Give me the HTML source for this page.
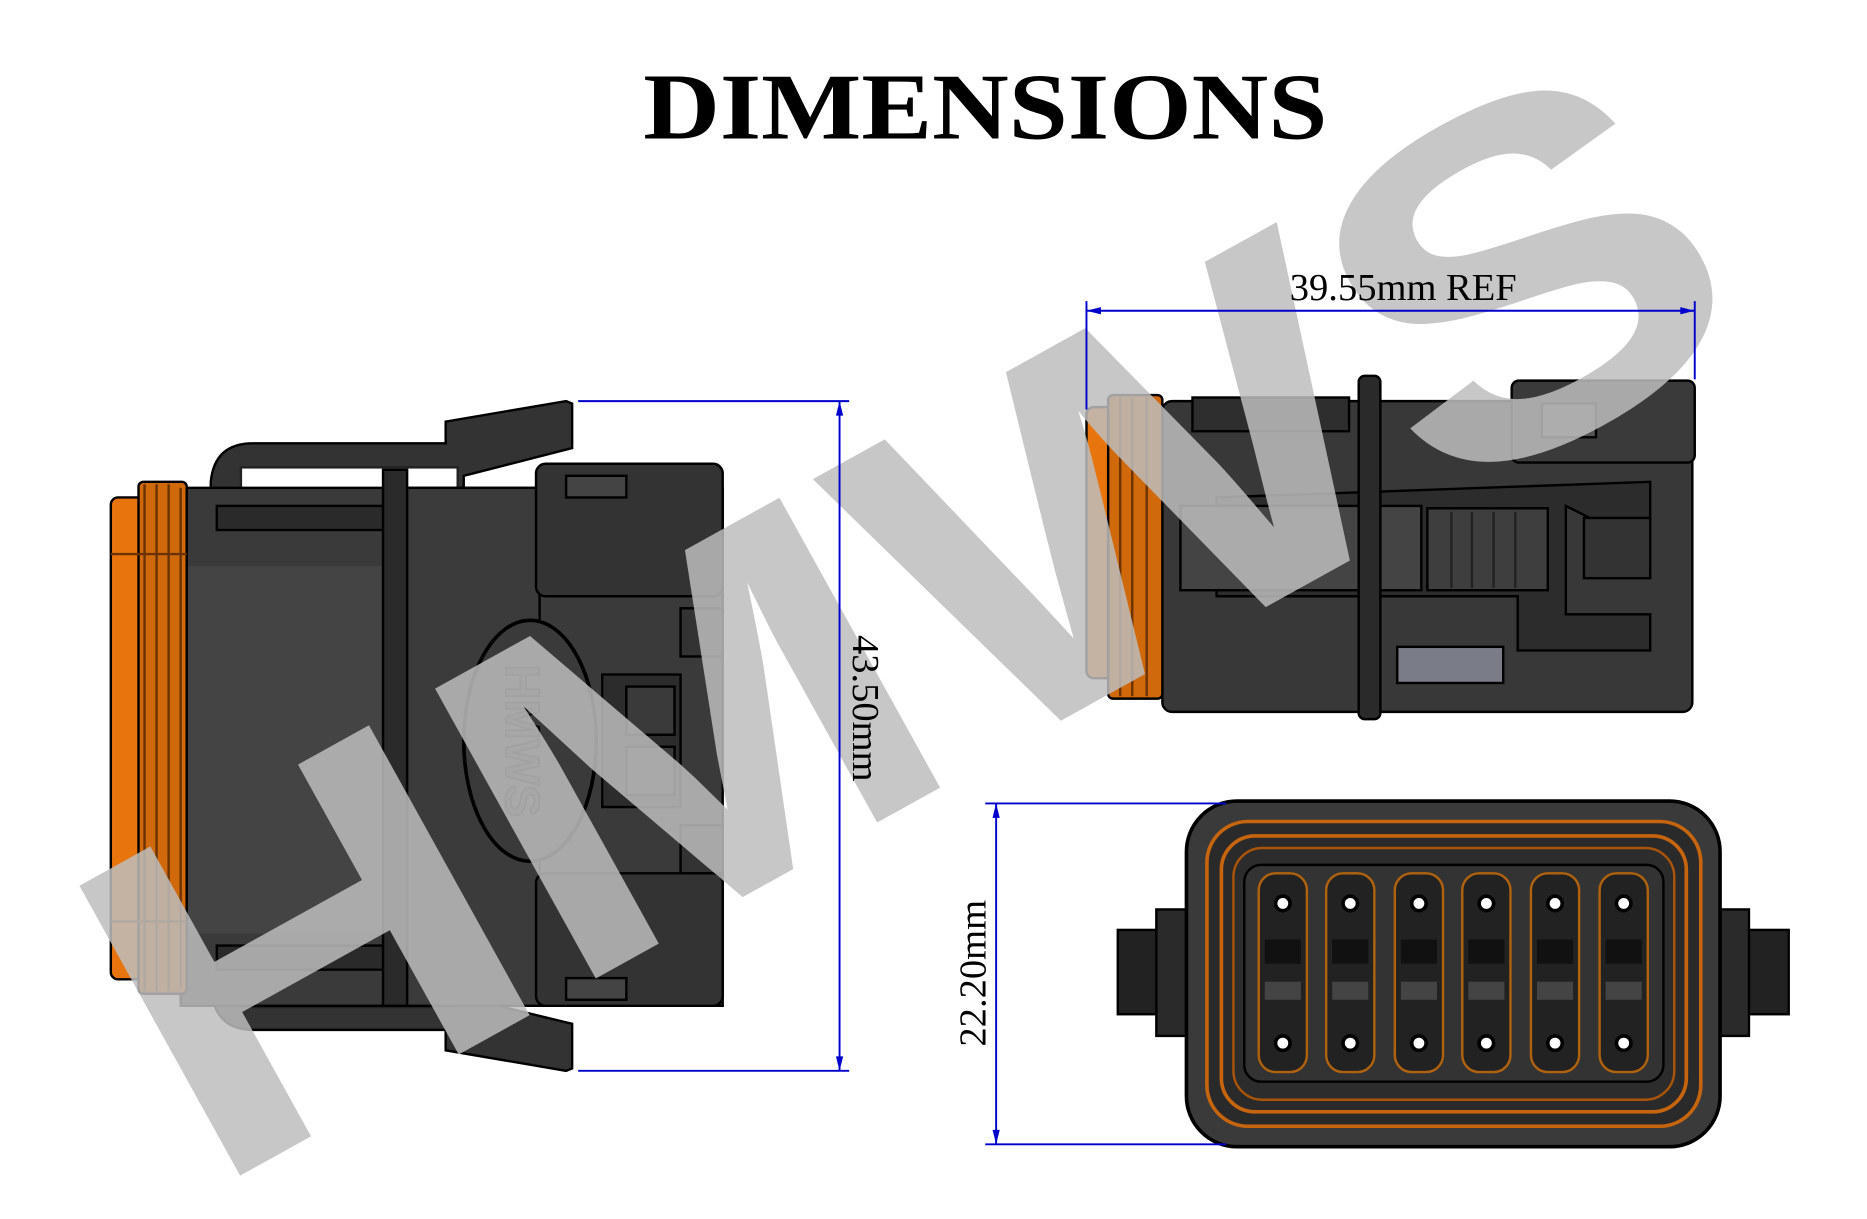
<!DOCTYPE html>
<html><head><meta charset="utf-8"><style>
html,body{margin:0;padding:0;background:#fff;width:1867px;height:1219px;overflow:hidden}
svg{display:block}
</style></head><body>
<svg width="1867" height="1219" viewBox="0 0 1550 1012" preserveAspectRatio="none" xmlns="http://www.w3.org/2000/svg" style="overflow:hidden">
<rect width="1550" height="1012" fill="#fff"/>

<!-- LEFT CONNECTOR -->
<g stroke="#000" stroke-width="2">
  <path d="M175,400 Q178,368 210,368 L370,368 L370,350 L470,333 L475,335 L475,372 L385,395 L385,408 L175,408Z" fill="#333"/>
  <path d="M175,820 Q178,855 210,855 L370,855 L370,872 L470,889 L475,887 L475,850 L385,828 L385,815 L175,815Z" fill="#333"/>
  <rect x="200" y="388" width="180" height="18" fill="#fff" stroke="#222"/>
  <rect x="200" y="818" width="180" height="18" fill="#fff" stroke="#222"/>
  <rect x="150" y="405" width="450" height="430" fill="#3a3a3a"/>
  <rect x="155" y="470" width="165" height="305" fill="#444" stroke="none"/>
  <rect x="180" y="420" width="140" height="20" fill="#2a2a2a"/>
  <rect x="180" y="785" width="140" height="20" fill="#2a2a2a"/>
  <rect x="318" y="390" width="20" height="445" fill="#2a2a2a"/>
  <rect x="338" y="405" width="110" height="430" fill="#3b3b3b"/>
  <rect x="445" y="385" width="155" height="110" rx="8" fill="#333"/>
  <rect x="445" y="725" width="155" height="110" rx="8" fill="#333"/>
  <rect x="470" y="395" width="50" height="18" fill="#444"/>
  <rect x="470" y="812" width="50" height="18" fill="#444"/>
  <rect x="565" y="505" width="35" height="40" fill="#333"/>
  <rect x="565" y="685" width="35" height="40" fill="#333"/>
  <rect x="500" y="560" width="65" height="110" fill="#2c2c2c"/>
  <rect x="520" y="570" width="40" height="40" fill="#3a3a3a"/>
  <rect x="520" y="620" width="40" height="40" fill="#3a3a3a"/>
  <ellipse cx="440" cy="615" rx="55" ry="100" fill="#3a3a3a" stroke-width="3"/>
  <rect x="92" y="413" width="60" height="400" rx="6" fill="#e8740e"/>
  <rect x="115" y="400" width="40" height="425" rx="4" fill="#d0690c"/>
</g>
<g stroke="#6a3300" stroke-width="2">
  <line x1="120" y1="402" x2="120" y2="823"/><line x1="130" y1="402" x2="130" y2="823"/>
  <line x1="140" y1="402" x2="140" y2="823"/><line x1="150" y1="405" x2="150" y2="820"/>
  <line x1="92" y1="460" x2="155" y2="460"/><line x1="92" y1="765" x2="155" y2="765"/>
</g>
<text transform="translate(420,615) rotate(90)" text-anchor="middle" font-family="Liberation Sans,sans-serif" font-weight="bold" font-size="40" fill="#2a2a2a" stroke="#000" stroke-width="1.5">HMWS</text>

<!-- TOP RIGHT CONNECTOR -->
<g stroke="#000" stroke-width="2">
  <rect x="965" y="333" width="440" height="258" rx="8" fill="#383838"/>
  <rect x="990" y="330" width="130" height="28" fill="#2e2e2e"/>
  <rect x="1255" y="316" width="152" height="68" rx="6" fill="#3a3a3a"/>
  <rect x="1280" y="335" width="45" height="28" fill="#555"/>
  <path d="M1010,413 L1370,400 L1370,470 L1320,470 L1320,430 L1300,420 L1300,510 L1370,510 L1370,540 L1260,540 L1260,495 L1010,495Z" fill="#2c2c2c"/>
  <rect x="980" y="420" width="200" height="70" fill="#444"/>
  <rect x="1185" y="422" width="100" height="68" fill="#3e3e3e"/>
  <rect x="1128" y="312" width="18" height="285" rx="5" fill="#2a2a2a"/>
  <rect x="1160" y="537" width="88" height="30" fill="#7a7c88"/>
  <rect x="1315" y="430" width="55" height="50" fill="#333"/>
  <rect x="902" y="338" width="45" height="225" rx="6" fill="#e8740e"/>
  <rect x="920" y="328" width="45" height="252" rx="4" fill="#d0690c"/>
</g>
<g stroke="#6a3300" stroke-width="2">
  <line x1="930" y1="330" x2="930" y2="578"/><line x1="940" y1="330" x2="940" y2="578"/><line x1="952" y1="330" x2="952" y2="578"/>
</g>
<g stroke="#222" stroke-width="2">
  <line x1="1205" y1="425" x2="1205" y2="488"/><line x1="1222" y1="425" x2="1222" y2="488"/>
  <line x1="1240" y1="425" x2="1240" y2="488"/><line x1="1258" y1="425" x2="1258" y2="488"/>
</g>

<!-- BOTTOM RIGHT CONNECTOR -->
<g stroke="#000" stroke-width="2">
  <rect x="928" y="772" width="60" height="70" fill="#222"/>
  <rect x="1425" y="772" width="60" height="70" fill="#222"/>
  <rect x="960" y="755" width="30" height="105" fill="#2a2a2a"/>
  <rect x="1422" y="755" width="30" height="105" fill="#2a2a2a"/>
  <rect x="985" y="665" width="443" height="287" rx="42" fill="#3a3a3a" stroke-width="3"/>
  <rect x="1002" y="682" width="410" height="253" rx="34" fill="#2a2a2a" stroke="#c7650e" stroke-width="3"/>
  <rect x="1014" y="694" width="386" height="229" rx="28" fill="none" stroke="#c7650e" stroke-width="3"/>
  <rect x="1024" y="704" width="366" height="209" rx="24" fill="#2c2c2c" stroke="#a9540a" stroke-width="2"/>
  <rect x="1033" y="718" width="348" height="180" rx="14" fill="#333"/>
</g>
<g>
  <g fill="#222" stroke="#b0620e" stroke-width="2">
    <rect x="1045" y="725" width="40" height="165" rx="14"/>
    <rect x="1101" y="725" width="40" height="165" rx="14"/>
    <rect x="1158" y="725" width="40" height="165" rx="14"/>
    <rect x="1214" y="725" width="40" height="165" rx="14"/>
    <rect x="1271" y="725" width="40" height="165" rx="14"/>
    <rect x="1328" y="725" width="40" height="165" rx="14"/>
  </g>
  <g fill="#111">
    <rect x="1050" y="780" width="30" height="20"/><rect x="1106" y="780" width="30" height="20"/>
    <rect x="1163" y="780" width="30" height="20"/><rect x="1219" y="780" width="30" height="20"/>
    <rect x="1276" y="780" width="30" height="20"/><rect x="1333" y="780" width="30" height="20"/>
    <rect x="1050" y="815" width="30" height="15" fill="#444"/><rect x="1106" y="815" width="30" height="15" fill="#444"/>
    <rect x="1163" y="815" width="30" height="15" fill="#444"/><rect x="1219" y="815" width="30" height="15" fill="#444"/>
    <rect x="1276" y="815" width="30" height="15" fill="#444"/><rect x="1333" y="815" width="30" height="15" fill="#444"/>
  </g>
  <g fill="#fff" stroke="#000" stroke-width="3">
    <circle cx="1065" cy="750" r="6"/><circle cx="1121" cy="750" r="6"/><circle cx="1178" cy="750" r="6"/>
    <circle cx="1234" cy="750" r="6"/><circle cx="1291" cy="750" r="6"/><circle cx="1348" cy="750" r="6"/>
    <circle cx="1065" cy="866" r="6"/><circle cx="1121" cy="866" r="6"/><circle cx="1178" cy="866" r="6"/>
    <circle cx="1234" cy="866" r="6"/><circle cx="1291" cy="866" r="6"/><circle cx="1348" cy="866" r="6"/>
  </g>
</g>

<!-- WATERMARK -->
<text transform="translate(768,540) rotate(-29)" text-anchor="middle" font-family="Liberation Sans,sans-serif" font-weight="bold" font-size="400" fill="#bdbdbd" fill-opacity="0.85" textLength="1480" lengthAdjust="spacingAndGlyphs" dominant-baseline="middle">HMWS</text>

<!-- TITLE -->
<text x="818" y="115" text-anchor="middle" font-family="Liberation Serif,serif" font-weight="bold" font-size="78" fill="#000" textLength="568" lengthAdjust="spacingAndGlyphs">DIMENSIONS</text>

<!-- DIMENSIONS -->
<g stroke="#0000cc" stroke-width="1.6" fill="#0000cc">
  <line x1="480" y1="333" x2="705" y2="333"/>
  <line x1="480" y1="889" x2="705" y2="889"/>
  <line x1="697" y1="333" x2="697" y2="889"/>
  <path d="M697,333 l-3,12 l6,0Z" stroke="none"/><path d="M697,889 l-3,-12 l6,0Z" stroke="none"/>
  <line x1="902" y1="250" x2="902" y2="340"/>
  <line x1="1407" y1="250" x2="1407" y2="315"/>
  <line x1="902" y1="258" x2="1407" y2="258"/>
  <path d="M902,258 l12,-3 l0,6Z" stroke="none"/><path d="M1407,258 l-12,-3 l0,6Z" stroke="none"/>
  <line x1="818" y1="667" x2="1018" y2="667"/>
  <line x1="818" y1="950" x2="1018" y2="950"/>
  <line x1="827" y1="667" x2="827" y2="950"/>
  <path d="M827,667 l-3,12 l6,0Z" stroke="none"/><path d="M827,950 l-3,-12 l6,0Z" stroke="none"/>
</g>
<g font-family="Liberation Serif,serif" font-size="32" fill="#000">
  <text x="1165" y="249" text-anchor="middle">39.55mm REF</text>
  <text transform="translate(708,588) rotate(90)" text-anchor="middle">43.50mm</text>
  <text transform="translate(818,808) rotate(-90)" text-anchor="middle">22.20mm</text>
</g>
</svg>
</body></html>
